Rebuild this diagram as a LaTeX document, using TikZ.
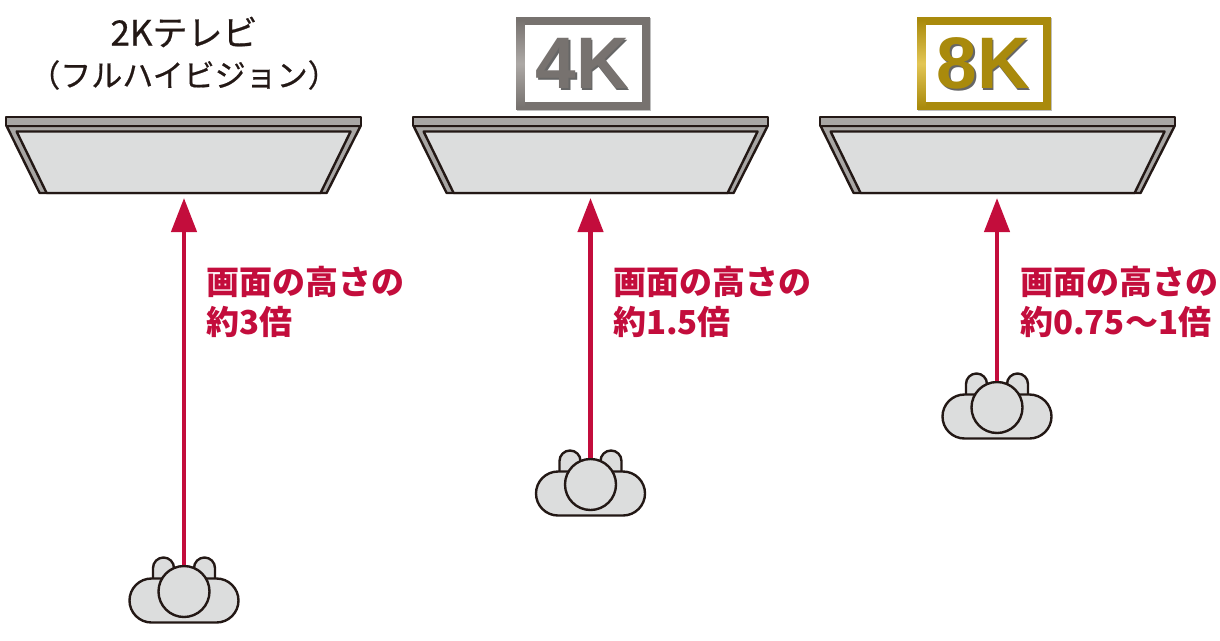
\documentclass[tikz,border=0pt]{standalone}
\usepackage{fontspec}
\setmainfont{Noto Sans CJK JP}
\newfontfamily\titlefont[FakeBold=0.6]{Noto Sans CJK JP}
\newfontfamily\badgefont{Liberation Sans}
\usetikzlibrary{arrows.meta}
\definecolor{inkdark}{HTML}{231815}
\definecolor{screenfill}{HTML}{DCDDDD}
\definecolor{rimfill}{HTML}{A8A6A4}
\definecolor{sightred}{HTML}{C30D3C}
\definecolor{silverdark}{HTML}{77726F}
\definecolor{silverlight}{HTML}{ADA9A6}
\definecolor{golddark}{HTML}{A98A0C}
\definecolor{goldlight}{HTML}{E3C655}
\tikzset{
	outline/.style={draw=inkdark, line width=2.4pt, line join=round},
	sight/.style={draw=sightred, line width=4.4pt, -{Triangle[width=25pt,length=34pt]}},
	distlabel/.style={text=sightred, font=\fontsize{33}{40}\selectfont\bfseries, align=left, anchor=north west, inner sep=0pt},
	titlelabel/.style={text=inkdark, font=\titlefont, align=center, inner sep=0pt},
	badgetext/.style={font=\badgefont\bfseries\fontsize{73}{73}\selectfont, inner sep=0pt},
	tv/.pic={
		\draw[outline, fill=rimfill] (-177,9) -- (-144,76) -- (143,76) -- (177,9) -- cycle; %keret
		\draw[outline, fill=screenfill] (-167,14.5) -- (167,14.5) -- (137,76) -- (-137,76) -- cycle; %kijelzo
		\draw[outline, fill=rimfill] (-177.5,0) rectangle (177.5,9); %felso lec
	},
	viewer/.pic={
		\draw[outline, fill=screenfill, rounded corners=10.5pt] (-31,-10) -- (-31,-34) -- (-10,-34) -- (-10,-10); %bal ful
		\draw[outline, fill=screenfill, rounded corners=10.5pt] (10,-10) -- (10,-34) -- (31,-34) -- (31,-10); %jobb ful
		\node[outline, fill=screenfill, rounded corners=22pt, minimum width=109pt, minimum height=44pt, inner sep=0pt] (body) at (0,9) {};
		\node[outline, fill=screenfill, circle, minimum size=51pt, inner sep=0pt] (head) at (0,0) {};
	},
}
\begin{document}
\begin{tikzpicture}[x=1pt, y=-1pt]
	\useasboundingbox (0,0) rectangle (1220,640);
	%tv
	\pic (tvA) at (183.6,117) {tv};
	\pic (tvB) at (590.6,117) {tv};
	\pic (tvC) at (997.6,117) {tv};
	%nezok
	\pic (viewerA) at (184,591.5) {viewer};
	\pic (viewerB) at (590.5,484.5) {viewer};
	\pic (viewerC) at (997,407.5) {viewer};
	\coordinate (tipA) at (184,198);
	\coordinate (tipB) at (590.5,198);
	\coordinate (tipC) at (997,198);
	\draw[sight] (viewerAhead) -- (tipA);
	\draw[sight] (viewerBhead) -- (tipB);
	\draw[sight] (viewerChead) -- (tipC);
	%feliratok
	\node[distlabel] (distA) at (206,266) {画面の高さの\\約3倍};
	\node[distlabel] (distB) at (613,266) {画面の高さの\\約1.5倍};
	\node[distlabel] (distC) at (1020,266) {画面の高さの\\約0.75〜1倍};
	\node[titlelabel] (title2k) at (184,32) {\fontsize{35}{35}\selectfont 2Kテレビ};
	\node[titlelabel] (titlefull) at (184,75) {\fontsize{31}{31}\selectfont （フルハイビジョン）};
	%4K
	\fill[black!25] (517,18) rectangle (651,111);
	\fill[silverdark] (516,17) rectangle (650,110);
	\shade[top color=silverdark, bottom color=silverdark, middle color=silverlight] (516,20) rectangle (525,107);
	\fill[white] (525,25) rectangle (642,102);
	\node[badgetext, text=black!60] (label4ks) at (584,65) {4K};
	\node[badgetext, text=silverdark] (label4k) at (582.5,63) {4K};
	%8K
	\fill[black!25] (918,18) rectangle (1052,111);
	\fill[golddark] (917,17) rectangle (1051,110);
	\shade[top color=golddark, bottom color=golddark, middle color=goldlight] (917,20) rectangle (926,107);
	\fill[white] (926,25) rectangle (1043,102);
	\node[badgetext, text=black!60] (label8ks) at (985,65) {8K};
	\node[badgetext, text=golddark] (label8k) at (983.5,63) {8K};
\end{tikzpicture}
\end{document}
